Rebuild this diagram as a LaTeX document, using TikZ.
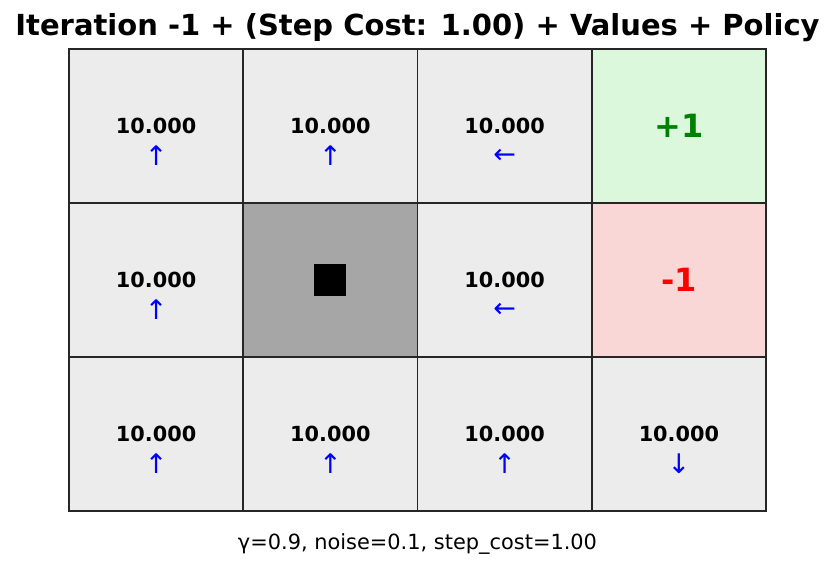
\documentclass[tikz,border=0pt]{standalone}
\usepackage{fontspec}
\setmainfont{DejaVu Sans}
\usetikzlibrary{positioning}

\definecolor{freegray}{HTML}{ECECEC}
\definecolor{goalgreen}{HTML}{DCF8DC}
\definecolor{pitred}{HTML}{FAD7D7}
\definecolor{wallgray}{HTML}{A6A6A6}
\definecolor{arrowblue}{HTML}{0000FF}
\definecolor{plusgreen}{HTML}{008000}

\tikzset{
  cell/.style={draw=black!85, line width=1.8pt, minimum width=174.25pt,
    minimum height=154pt, inner sep=0pt},
  free/.style={fill=freegray},
  goal/.style={fill=goalgreen},
  pit/.style={fill=pitred},
  wall/.style={fill=wallgray},
  value/.style={font=\bfseries\fontsize{20.8}{25}\selectfont, inner sep=0pt},
  policy/.style={font=\fontsize{27}{32}\selectfont, text=arrowblue, inner sep=0pt},
  reward/.style={font=\bfseries\fontsize{32}{38}\selectfont, inner sep=0pt},
  block/.style={fill=black, minimum size=32pt, inner sep=0pt},
}

\begin{document}
\begin{tikzpicture}[x=1pt, y=-1pt]
  \useasboundingbox (0,0) rectangle (835,570);

  % title
  \node[font=\bfseries\fontsize{29}{34}\selectfont] (title) at (417.5,28)
    {Iteration -1 + (Step Cost: 1.00) + Values + Policy};

  % grid cells
  \foreach \r/\c/\kind in {0/0/free,0/1/free,0/2/free,0/3/goal,
                           1/0/free,1/1/wall,1/2/free,1/3/pit,
                           2/0/free,2/1/free,2/2/free,2/3/free}
    \node[cell, \kind] (c\r\c) at ({69+174.25*(\c+0.5)},{49+154*(\r+0.5)}) {};

  % values and policy arrows
  \foreach \r/\c/\dir in {0/0/↑,0/1/↑,0/2/←,1/0/↑,1/2/←,2/0/↑,2/1/↑,2/2/↑,2/3/↓} {
    \node[value] (v\r\c) at (c\r\c) {10.000};
    \node[policy] (p\r\c) at ([yshift=-30pt]c\r\c.center) {\dir};
  }

  % terminals and wall
  \node[reward, text=plusgreen] (r03) at (c03) {+1};
  \node[reward, text=red] (r13) at (c13) {-1};
  \node[block] (b11) at (c11) {};

  % parameters
  \node[font=\fontsize{20.9}{25}\selectfont] (params) at (417.5,544)
    {γ=0.9, noise=0.1, step\_cost=1.00};
\end{tikzpicture}
\end{document}
